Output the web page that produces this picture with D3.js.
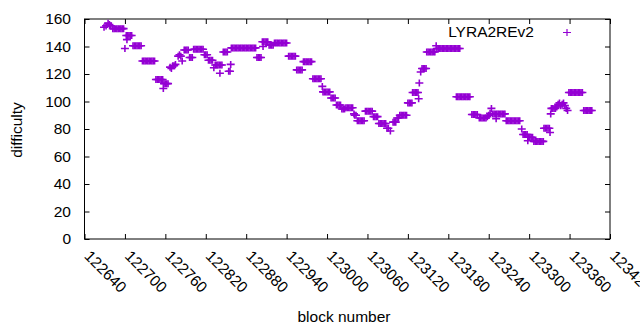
<!DOCTYPE html>
<html>
<head>
<meta charset="utf-8">
<script src="https://cdn.jsdelivr.net/npm/d3@7"></script>
<style>
  body { margin: 0; background: #fff; }
  text { font-family: "Liberation Sans", Arial, sans-serif; }
</style>
</head>
<body>
<div id="chart"></div>
<script>
// block heights and difficulty, one line per run
const blocks = [
  122669, 122672, 122675, 122677, 122679,
  122682, 122684, 122686, 122688, 122690, 122692, 122694, 122696, 122698,
  122700, 122703,
  122702, 122704, 122706, 122708, 122710,
  122712, 122714, 122716, 122718, 122720, 122722, 122724,
  122726, 122728, 122730, 122732, 122734, 122736, 122738, 122740, 122742, 122744,
  122746, 122748, 122750, 122752, 122754, 122756,
  122757, 122758, 122760, 122762, 122764,
  122767, 122769, 122771, 122773, 122775,
  122779, 122781, 122783, 122785,
  122788, 122790, 122792, 122794,
  122796, 122798, 122800,
  122802, 122804, 122806, 122808, 122810, 122812, 122814, 122816,
  122818, 122820, 122822,
  122824, 122826, 122828, 122830,
  122832, 122834, 122836, 122838, 122840, 122841, 122842, 122844,
  122846, 122848, 122850, 122852,
  122854, 122856, 122857,
  122858, 122860, 122862, 122864, 122866, 122868, 122870, 122872, 122874, 122876,
  122878, 122880, 122882, 122884, 122886, 122888, 122890, 122892, 122894,
  122896, 122898, 122900, 122902,
  122904, 122905, 122906, 122908, 122910, 122912,
  122914, 122916, 122918, 122920,
  122922, 122924, 122926, 122928, 122930, 122932, 122934, 122936, 122938, 122940,
  122943, 122945, 122947, 122949, 122951, 122953,
  122955, 122957, 122959, 122961, 122963,
  122965, 122967, 122969, 122971, 122973, 122975, 122977,
  122979, 122981, 122983, 122985, 122987, 122989, 122991,
  122993, 122994, 122996, 122998, 123000, 123002, 123004,
  123006, 123008, 123010, 123012,
  123014, 123016, 123018, 123020,
  123022, 123024, 123026,
  123028, 123030, 123032, 123034, 123036, 123038,
  123040, 123041, 123043,
  123045, 123047, 123049, 123051, 123053, 123055,
  123057, 123059, 123061, 123063, 123065, 123067,
  123069, 123071, 123073, 123075,
  123077, 123079, 123081, 123083, 123085, 123087,
  123089, 123091, 123094,
  123098, 123100, 123102, 123104, 123106,
  123108, 123110, 123112, 123114, 123116, 123118,
  123120, 123122, 123124, 123126,
  123127, 123129, 123131, 123133, 123135,
  123136, 123137, 123139,
  123141, 123143, 123145, 123147,
  123148, 123150, 123152, 123154, 123156, 123158, 123160,
  123162, 123163, 123165, 123167, 123169, 123171, 123173, 123175, 123177, 123179,
  123181, 123183, 123185, 123187, 123189, 123191, 123193, 123195, 123197,
  123192, 123194, 123196, 123198, 123200, 123202, 123204, 123206, 123208, 123210, 123212,
  123215, 123217, 123219, 123221, 123223,
  123226, 123228, 123230, 123232, 123234, 123236,
  123238, 123240, 123242, 123244, 123251,
  123246, 123248, 123250, 123252, 123254, 123256, 123258, 123260, 123262, 123264,
  123266, 123268, 123270, 123272, 123274, 123276, 123278, 123280, 123282, 123284, 123286,
  123289, 123291, 123293, 123295, 123297,
  123298, 123299, 123301, 123303, 123305,
  123307, 123309, 123311, 123313, 123315, 123317, 123319, 123321,
  123322, 123324, 123326, 123328, 123330, 123331,
  123332, 123333, 123335, 123337, 123339,
  123341, 123343, 123345, 123347, 123349, 123351, 123353, 123355, 123357,
  123359, 123361, 123363, 123365, 123367, 123369, 123371, 123373, 123375, 123377, 123379,
  123381, 123383, 123385, 123387, 123389, 123391, 123393
];

const difficulty = [
  154, 155, 157, 156, 155,
  153, 153, 153, 153, 153, 153, 153, 153, 153,
  138.5, 145,
  148, 148, 148, 148, 148,
  140.5, 140.5, 140.5, 140.5, 140.5, 140.5, 140.5,
  129.5, 129.5, 129.5, 129.5, 129.5, 129.5, 129.5, 129.5, 129.5, 129.5,
  116, 116, 116, 116, 116, 116,
  109.5, 113, 113, 113, 113,
  125, 124, 126, 126, 127,
  133, 134, 133, 129.5,
  137.5, 137.5, 137.5, 137.5,
  132, 132, 132,
  138, 138, 138, 138, 138, 138, 138, 138,
  134, 134, 134,
  130, 130, 130, 130,
  124.5, 126.5, 126.5, 126.5, 126.5, 120.5, 126.5, 126.5,
  136, 136, 136, 136,
  122, 122, 127,
  139, 139, 139, 139, 139, 139, 139, 139, 139, 139,
  139, 139, 139, 139, 139, 139, 139, 139, 139,
  132, 132, 132, 132,
  143.5, 140, 143.5, 143.5, 143.5, 143.5,
  141, 141, 141, 141,
  142.5, 142.5, 142.5, 142.5, 142.5, 142.5, 142.5, 142.5, 142.5, 142.5,
  133, 133, 133, 133, 133, 133,
  123, 123, 123, 123, 123,
  129, 129, 129, 129, 129, 129, 129,
  116.5, 116.5, 116.5, 116.5, 116.5, 116.5, 116.5,
  111, 107, 107, 107, 107, 107, 107,
  102.5, 102.5, 102.5, 102.5,
  97.5, 97.5, 97.5, 97.5,
  94.5, 94.5, 94.5,
  95.5, 95.5, 95.5, 95.5, 95.5, 95.5,
  91, 90, 90,
  86, 86, 86, 86, 86, 86,
  93, 93, 93, 93, 93, 93,
  89, 89, 89, 89,
  84, 84, 84, 84, 84, 84,
  80.5, 80.5, 78.5,
  85, 85, 85, 88, 88,
  90, 90, 90, 90, 90, 90,
  99, 99, 99, 99,
  106.5, 106.5, 106.5, 106.5, 106.5,
  102, 113.5, 121.5,
  124, 124, 124, 124,
  136, 136, 136, 136, 136, 136, 136,
  140.5, 138.5, 138.5, 138.5, 138.5, 138.5, 138.5, 138.5, 138.5, 138.5,
  138.5, 138.5, 138.5, 138.5, 138.5, 138.5, 138.5, 138.5, 138.5,
  103.5, 103.5, 103.5, 103.5, 103.5, 103.5, 103.5, 103.5, 103.5, 103.5, 103.5,
  90.5, 90.5, 90.5, 90.5, 90.5,
  88, 88, 88, 88, 88, 88,
  89, 90, 91.5, 95, 87.5,
  91, 91, 91, 91, 91, 91, 91, 91, 91, 91,
  86, 86, 86, 86, 86, 86, 86, 86, 86, 86, 86,
  80, 76, 76, 76, 76,
  71.5, 74, 74, 74, 74,
  71, 71, 71, 71, 71, 71, 71, 71,
  80.5, 80.5, 80.5, 80.5, 80.5, 77.5,
  91, 95, 95, 95, 95,
  96, 98, 99, 97, 98, 99, 97, 95, 93.5,
  106.5, 106.5, 106.5, 106.5, 106.5, 106.5, 106.5, 106.5, 106.5, 106.5, 106.5,
  93.5, 93.5, 93.5, 93.5, 93.5, 93.5, 93.5
];

const xTicks = [122640, 122700, 122760, 122820, 122880, 122940, 123000,
                123060, 123120, 123180, 123240, 123300, 123360, 123420];
const yTicks = [0, 20, 40, 60, 80, 100, 120, 140, 160];
const seriesName = "LYRA2REv2";

const width = 640,
      height = 330,
      margin = {top: 19, right: 30, bottom: 91, left: 84.5};
const color = "#9400d3";

const svg = d3.select("#chart").append("svg")
    .attr("width", width)
    .attr("height", height);

const x = d3.scaleLinear([122640, 123420], [margin.left, width - margin.right]);
const y = d3.scaleLinear([0, 160], [height - margin.bottom, margin.top]);

// gnuplot style: ticks point inward, mirrored on all four sides
svg.append("g")
    .attr("transform", `translate(0,${height - margin.bottom})`)
    .call(d3.axisBottom(x).tickValues(xTicks).tickSize(-5).tickFormat(""))
    .call(g => g.select(".domain").remove());

svg.append("g")
    .attr("transform", `translate(0,${margin.top})`)
    .call(d3.axisTop(x).tickValues(xTicks).tickSize(-5).tickFormat(""))
    .call(g => g.select(".domain").remove());

svg.append("g")
    .attr("transform", `translate(${margin.left},0)`)
    .call(d3.axisLeft(y).tickValues(yTicks).tickSize(-5).tickPadding(13.5))
    .call(g => g.select(".domain").remove())
    .call(g => g.selectAll("text")
        .attr("font-size", 15.5)
        .attr("font-family", "'Liberation Sans', Arial, sans-serif")
        .attr("fill", "#000"));

svg.append("g")
    .attr("transform", `translate(${width - margin.right},0)`)
    .call(d3.axisRight(y).tickValues(yTicks).tickSize(-5).tickFormat(""))
    .call(g => g.select(".domain").remove());

svg.selectAll(".tick line").attr("stroke", "#000");

// rotated x tick labels
svg.append("g")
    .selectAll("text")
    .data(xTicks)
    .join("text")
        .attr("transform", d => `translate(${x(d) - 1},257) rotate(45)`)
        .attr("font-size", 15.5)
        .attr("text-anchor", "start")
        .text(d => d);

// plot border
svg.append("rect")
    .attr("x", margin.left)
    .attr("y", margin.top)
    .attr("width", width - margin.right - margin.left)
    .attr("height", height - margin.bottom - margin.top)
    .attr("fill", "none")
    .attr("stroke", "#000");

const cross = (cx, cy) => `M${cx - 4},${cy}h8M${cx},${cy - 3.5}v7`;

svg.append("g")
    .selectAll("path")
    .data(blocks.map((b, i) => [b, difficulty[i]]))
    .join("path")
        .attr("d", d => cross(x(d[0]), y(d[1])))
        .attr("stroke", color)
        .attr("stroke-width", 1.6)
        .attr("fill", "none");

// legend
svg.append("text")
    .attr("x", 534)
    .attr("y", 37)
    .attr("text-anchor", "end")
    .attr("font-size", 15.5)
    .text(seriesName);

svg.append("path")
    .attr("d", cross(567, 32.5))
    .attr("stroke", color)
    .attr("stroke-width", 1.2);

// axis titles
svg.append("text")
    .attr("x", 344)
    .attr("y", 322)
    .attr("text-anchor", "middle")
    .attr("font-size", 15.5)
    .text("block number");

svg.append("text")
    .attr("transform", "translate(22,130) rotate(-90)")
    .attr("text-anchor", "middle")
    .attr("font-size", 15.5)
    .text("difficulty");
</script>
</body>
</html>
